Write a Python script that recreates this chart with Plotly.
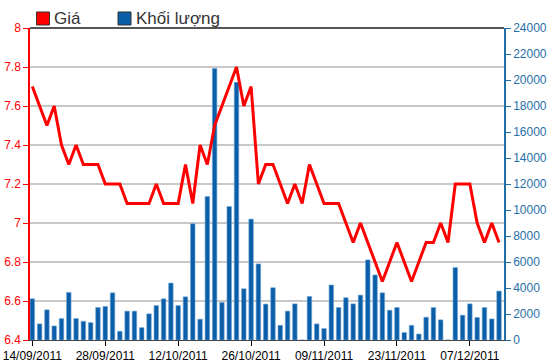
import pandas as pd
import plotly.graph_objects as go

dates = [d.strftime("%d/%m/%Y") for d in pd.bdate_range("2011-09-14", periods=65)]

price = [7.7, 7.6, 7.5, 7.6, 7.4, 7.3, 7.4, 7.3, 7.3, 7.3,
         7.2, 7.2, 7.2, 7.1, 7.1, 7.1, 7.1, 7.2, 7.1, 7.1,
         7.1, 7.3, 7.1, 7.4, 7.3, 7.5, 7.6, 7.7, 7.8, 7.6,
         7.7, 7.2, 7.3, 7.3, 7.2, 7.1, 7.2, 7.1, 7.3, 7.2,
         7.1, 7.1, 7.1, 7.0, 6.9, 7.0, 6.9, 6.8, 6.7, 6.8,
         6.9, 6.8, 6.7, 6.8, 6.9, 6.9, 7.0, 6.9, 7.2, 7.2,
         7.2, 7.0, 6.9, 7.0, 6.9]

volume = [3170, 1240, 2320, 1080, 1650, 3660, 1650, 1440, 1340, 2500,
          2580, 3630, 670, 2220, 2220, 950, 2010, 2650, 3170, 4380,
          2650, 3320, 8940, 1600, 11030, 20880, 2890, 10260, 19820, 3940,
          9300, 5850, 2760, 4020, 1130, 2220, 2780, 0, 3350, 1240,
          880, 4230, 2500, 3250, 2780, 3450, 6160, 5000, 3630, 2290,
          2500, 570, 1130, 460, 1750, 2500, 1550, 0, 5570, 1910,
          2780, 1730, 2500, 1620, 3760]

tick_dates = ["14/09/2011", "28/09/2011", "12/10/2011", "26/10/2011",
              "09/11/2011", "23/11/2011", "07/12/2011"]

legend_names = ["Giá", "Khối lượng"]

RED = "#ff0000"
BLUE = "#0b5ea8"
AXBLUE = "#1f6fa8"
FONT = "Liberation Sans"

fig = go.Figure()
fig.add_trace(go.Bar(x=dates, y=volume, yaxis="y", name=legend_names[1],
                     marker=dict(color=BLUE, line=dict(color="#6fa6d8", width=0.6)),
                     width=0.62))
fig.add_trace(go.Scatter(x=dates, y=price, yaxis="y2", mode="lines", name=legend_names[0],
                         line=dict(color=RED, width=3)))

# custom legend (square swatches + text) above the plot area
legend_shapes = [
    dict(type="rect", xref="paper", yref="paper", x0=0.0137, x1=0.0411, y0=1.0096, y1=1.0513,
         fillcolor=RED, line=dict(color="#333333", width=1)),
    dict(type="rect", xref="paper", yref="paper", x0=0.1857, x1=0.2131, y0=1.0096, y1=1.0513,
         fillcolor=BLUE, line=dict(color="#333333", width=1)),
]
legend_ann = [
    dict(text=legend_names[0], xref="paper", yref="paper", x=0.0465, y=1.0304,
         xanchor="left", yanchor="middle", showarrow=False,
         font=dict(family=FONT, size=17, color="#333333")),
    dict(text=legend_names[1], xref="paper", yref="paper", x=0.2195, y=1.0304,
         xanchor="left", yanchor="middle", showarrow=False,
         font=dict(family=FONT, size=17, color="#333333")),
]

fig.update_layout(
    width=550, height=364,
    margin=dict(l=30, r=46, t=28, b=24, autoexpand=False),
    paper_bgcolor="white", plot_bgcolor="white",
    font=dict(family=FONT, size=12, color="#000000"),
    showlegend=False,
    xaxis=dict(type="category", range=[-0.32, 64.68], automargin=False,
               tickmode="array", tickvals=tick_dates, ticktext=tick_dates,
               tickangle=0,
               ticks="outside", ticklen=5, tickcolor="#000000",
               showgrid=False, showline=True, linecolor="#444444", linewidth=1,
               tickfont=dict(family=FONT, size=12, color="#000000")),
    yaxis=dict(side="right", range=[0, 24000], dtick=2000, tick0=0, tickformat="d",
               automargin=False,
               showgrid=False, zeroline=False,
               showline=True, linecolor=AXBLUE, linewidth=1.5,
               ticks="outside", ticklen=5, tickcolor=AXBLUE,
               tickfont=dict(family=FONT, size=12, color=AXBLUE)),
    yaxis2=dict(side="left", overlaying="y", range=[6.4, 8], dtick=0.2, tick0=6.4,
                automargin=False,
                showgrid=True, gridcolor="#c8c8c8", gridwidth=1.5, zeroline=False,
                showline=True, linecolor=RED, linewidth=1.5,
                ticks="outside", ticklen=5, tickcolor=RED,
                tickfont=dict(family=FONT, size=12, color=RED)),
    shapes=[dict(type="line", xref="paper", yref="paper", x0=0, x1=1, y0=1, y1=1,
                 line=dict(color="#555555", width=2))] + legend_shapes,
    annotations=legend_ann,
)

fig.write_html("out.html", config={"displayModeBar": False},
               post_script="document.body.style.margin='0';document.body.style.overflow='hidden';")
